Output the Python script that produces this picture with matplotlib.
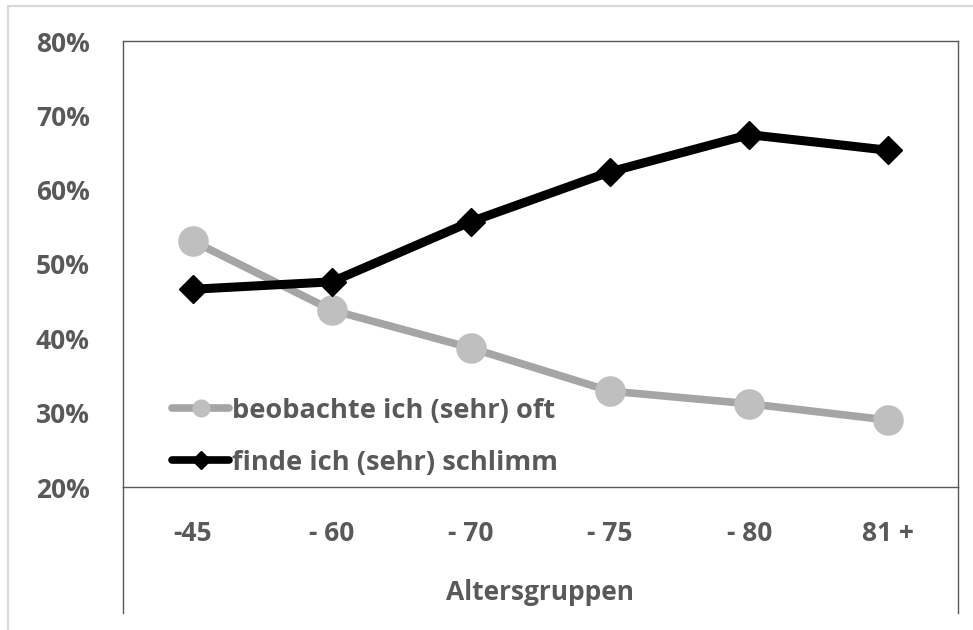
import matplotlib
matplotlib.use("Agg")
import matplotlib.pyplot as plt
from matplotlib.lines import Line2D

categories = ["-45", "- 60", "- 70", "- 75", "- 80", "81 +"]
beobachte = [53.1, 43.8, 38.7, 32.9, 31.2, 29.0]
finde = [46.6, 47.6, 55.7, 62.4, 67.4, 65.3]
yticks = [20, 30, 40, 50, 60, 70, 80]
ytick_labels = ["20%", "30%", "40%", "50%", "60%", "70%", "80%"]
series_labels = ["beobachte ich (sehr) oft", "finde ich (sehr) schlimm"]
xlabel = "Altersgruppen"

W, H = 973, 630
fig = plt.figure(figsize=(W / 100, H / 100), dpi=100)
FONT = "Open Sans"
TXT = "#595959"
FS = 19

# light outer frame (left and top)
fig.add_artist(Line2D([8 / W, 8 / W], [0, 1 - 6 / H], transform=fig.transFigure, color="#D9D9D9", lw=1.6))
fig.add_artist(Line2D([8 / W, 1], [1 - 6 / H, 1 - 6 / H], transform=fig.transFigure, color="#D9D9D9", lw=1.6))

left, right, top, bottom = 123, 958, 41, 487
ax = fig.add_axes([left / W, 1 - bottom / H, (right - left) / W, (bottom - top) / H])
x = list(range(len(categories)))
ax.plot(x, beobachte, color="#A5A5A5", lw=5.5, marker="o", ms=21,
        markerfacecolor="#BFBFBF", markeredgecolor="#BFBFBF", label=series_labels[0], zorder=3)
ax.plot(x, finde, color="#000000", lw=6.5, marker="D", ms=14,
        markerfacecolor="#000000", markeredgecolor="#000000", label=series_labels[1], zorder=4)

ax.set_xlim(-0.5, len(categories) - 0.5)
ax.set_ylim(20, 80)
ax.set_yticks(yticks)
ax.set_yticklabels(ytick_labels)
ax.set_xticks(x)
ax.set_xticklabels(categories)
ax.tick_params(axis="both", length=0, labelsize=FS, labelcolor=TXT)
ax.tick_params(axis="y", pad=24)
ax.tick_params(axis="x", pad=24)
for lab in ax.get_xticklabels() + ax.get_yticklabels():
    lab.set_fontfamily(FONT)
    lab.set_fontweight("bold")

for s in ax.spines.values():
    s.set_color("#595959")
    s.set_linewidth(1.0)

ext = (613 - bottom) / (bottom - top)
for xx in (0, 1):
    ax.add_artist(Line2D([xx, xx], [0, -ext], transform=ax.transAxes, color="#595959", lw=1.0, clip_on=False))

leg = ax.legend(loc="upper left", bbox_to_anchor=((172 - left) / (right - left), 1 - (398 - top) / (bottom - top)),
                frameon=False, handlelength=2.1, handletextpad=0.1, labelspacing=0.95,
                borderaxespad=0, borderpad=0,
                prop={"family": FONT, "weight": "bold", "size": 19.6})
for t in leg.get_texts():
    t.set_color(TXT)
hs = leg.legend_handles
hs[0].set_markersize(12)
hs[1].set_markersize(9)
for h in hs:
    h.set_solid_capstyle("round")
    h.set_linewidth(5.5)

fig.text(540 / W, 1 - 593 / H, xlabel, ha="center", va="center", fontsize=FS,
         fontfamily=FONT, fontweight="bold", color=TXT)

fig.savefig("out.png", dpi=100)
